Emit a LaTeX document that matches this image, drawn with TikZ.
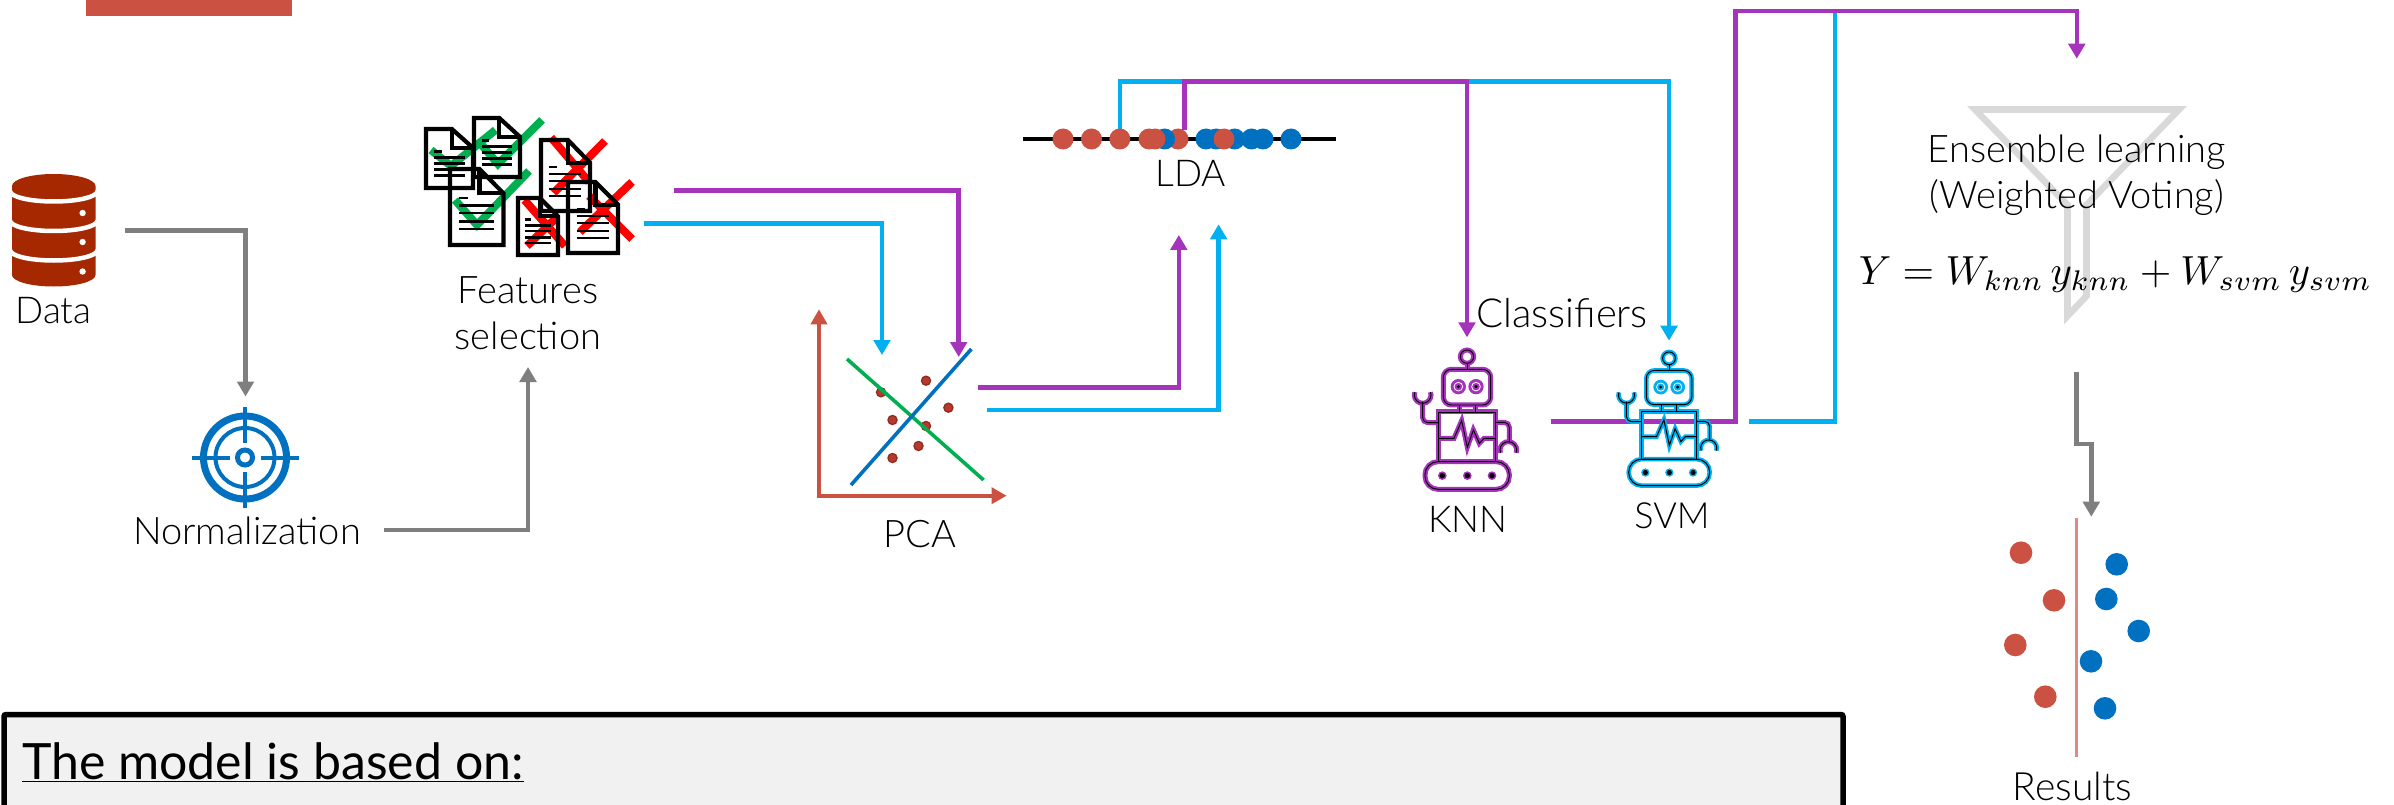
\documentclass[tikz,border=0pt]{standalone}
\usepackage{fontspec}
\setmainfont{Lato Light}
\newfontfamily\regfont{Lato}
\usetikzlibrary{arrows.meta}
\definecolor{conpurple}{HTML}{A633BB}
\definecolor{concyan}{HTML}{00B0F0}
\definecolor{congray}{HTML}{7F7F7F}
\definecolor{brick}{HTML}{CB5242}
\definecolor{dbred}{HTML}{A52800}
\definecolor{azure}{HTML}{0070C0}
\definecolor{leaf}{HTML}{00B050}
\definecolor{ptfill}{HTML}{B5392C}
\definecolor{ptedge}{HTML}{8F2A20}
\definecolor{funnel}{HTML}{D9D9D9}
\definecolor{panel}{HTML}{F1F1F1}
\definecolor{sepline}{HTML}{E08A80}
\tikzset{
  conn/.style={line width=4.5pt,line join=miter,-{Triangle[length=15pt,width=16.5pt]}},
  grayconn/.style={conn,draw=congray},
  purpconn/.style={conn,draw=conpurple},
  cyanconn/.style={conn,draw=concyan},
  lbl/.style={anchor=base,inner sep=0pt,text=black,font=\fontsize{38}{45.5}\selectfont,align=center},
  lblsm/.style={lbl,font=\fontsize{37}{45.5}\selectfont},
  docline/.style={line width=4.2pt,draw=black,line join=miter},
  docrule/.style={line width=2.6pt,draw=black},
  tick/.style={line width=8pt,draw=leaf},
  cross/.style={line width=8pt,draw=red},
}
% document icon: left, top, right, bottom
\newcommand{\docicon}[4]{%
  \pgfmathsetmacro{\dw}{#3-#1}\pgfmathsetmacro{\dh}{#4-#2}%
  \pgfmathsetmacro{\fx}{#3-0.45*\dw}\pgfmathsetmacro{\fy}{#2+0.32*\dh}%
  \draw[docline] (#1,#2) -- (\fx,#2) -- (#3,\fy) -- (#3,#4) -- (#1,#4) -- cycle;
  \draw[docline] (\fx,#2) -- (\fx,\fy) -- (#3,\fy);
  \foreach \f/\e in {.38/.33,.48/.82,.58/.82,.69/.82,.79/.82}{
    \draw[docrule] ({#1+.17*\dw},{#2+\f*\dh}) -- ({#1+\e*\dw},{#2+\f*\dh});
  }%
}
% robot, in units of the zoomed crop
\newcommand{\robotshape}[1]{%
  \draw[#1] (261,290) circle[radius=20];
  \draw[#1] (261,310) -- (261,328);
  \draw[#1,rounded corners=8pt] (190,328) rectangle (332,435);
  \draw[#1] (238,435) -- (238,456) (285,435) -- (285,456);
  \draw[#1] (175,456) rectangle (347,605);
  \draw[#1,line join=miter] (175,535) -- (222,535) -- (245,482) -- (262,562) -- (280,510) -- (298,550) -- (312,535) -- (347,535);
  \draw[#1,rounded corners=5pt] (175,488) -- (128,488) -- (128,425);
  \draw[#1] (128,405) ++(200:25) arc[start angle=200,end angle=-20,radius=25];
  \draw[#1,rounded corners=5pt] (347,487) -- (388,487) -- (388,548);
  \draw[#1] (385,570) ++(160:25) arc[start angle=160,end angle=380,radius=25];
  \draw[#1,rounded corners=13pt] (135,605) rectangle (388,688);
}
\newcommand{\robotface}[1]{%
  \foreach \ex in {235,288}{
    \fill[#1] (\ex,380) circle[radius=23];
    \draw[white,line width=.8pt] (\ex,380) circle[radius=13];
    \fill[black] (\ex,380) circle[radius=5];
  }
  \foreach \wx in {187,262,336}{
    \fill[#1] (\wx,647) circle[radius=13];
    \fill[black] (\wx,647) circle[radius=8];
  }
}
\begin{document}
\begin{tikzpicture}[x=1pt,y=-1pt]
\useasboundingbox (0,0) rectangle (2394,805);
\fill[white] (0,0) rectangle (2394,805);

% connector ends
\coordinate (dataOut) at (125,230.5);
\coordinate (normIn) at (245.5,396.5);
\coordinate (normOut) at (384,530);
\coordinate (featIn) at (528,367);
\coordinate (featOutP) at (674,190.5);
\coordinate (featOutC) at (644,223.5);
\coordinate (pcaInP) at (958.7,357);
\coordinate (pcaInC) at (882,355);
\coordinate (pcaOutP) at (977.5,387.7);
\coordinate (pcaOutC) at (987,410);
\coordinate (ldaInP) at (1178.8,235);
\coordinate (ldaInC) at (1218.6,224.3);
\coordinate (ldaOutP) at (1184.5,130);
\coordinate (ldaOutC) at (1120,130);
\coordinate (ldaBusP) at (1184.5,81.3);
\coordinate (ldaBusC) at (1120,81.3);
\coordinate (knnIn) at (1467,337.3);
\coordinate (svmIn) at (1669,340.7);
\coordinate (knnOut) at (1550.7,421.3);
\coordinate (svmOut) at (1749,421.3);
\coordinate (riseP) at (1735.4,11);
\coordinate (riseC) at (1834.8,11);
\coordinate (ensIn) at (2076.8,58.7);
\coordinate (ensOut) at (2076.3,371.7);
\coordinate (jogA) at (2076.3,444);
\coordinate (jogB) at (2091.3,444);
\coordinate (resIn) at (2091.3,516.7);
\coordinate (axisO) at (819,495.7);
\coordinate (axisY) at (819,309.3);
\coordinate (axisX) at (1006.6,495.7);

% top bar
\fill[brick] (86,-2) rectangle (291.5,15.6);

% database
\fill[dbred] (12,186) -- (12,275) arc[start angle=180,end angle=0,x radius=41.75,y radius=11.5]
   -- (95.5,186) arc[start angle=0,end angle=-180,x radius=41.75,y radius=12] -- cycle;
\foreach \yy in {191,220.5,250}{
  \draw[white,line width=4.5pt] (10,\yy) arc[start angle=180,end angle=0,x radius=43.75,y radius=10.5];
}
\foreach \yy in {213,242,271.5}{ \fill[white] (82.6,\yy) circle[radius=3.2]; }
\node[lblsm] (data) at (53.6,323) {Data};

% normalization target
\draw[draw=azure,line width=7pt] (245,457.5) circle[radius=41.5];
\draw[draw=azure,line width=4pt] (245,457.5) circle[radius=29.5];
\draw[draw=azure,line width=5pt] (245,457.5) circle[radius=7.5];
\draw[draw=azure,line width=4pt] (192,457.5) -- (230,457.5) (261,457.5) -- (299,457.5)
   (245,406.5) -- (245,443) (245,472) -- (245,508);
\node[lbl] (norm) at (247,544) {Normalization};

% features selection icons
\draw[tick] (431,150) -- (451,166) -- (495.5,130);
\draw[tick] (480,143) -- (498,164) -- (542,120);
\draw[tick] (455,200) -- (477,225) -- (529,171);
\draw[cross] (551,137.5) -- (589,182) (605,141) -- (553.5,193);
\draw[cross] (524.5,200) -- (565,246) (556,218) -- (527,246);
\draw[cross] (632,182) -- (580,232) (589,196) -- (632,239);
\docicon{426}{129}{473}{188}
\docicon{474}{118}{520}{177}
\docicon{450}{169}{503.5}{245}
\docicon{541}{140}{590}{211}
\docicon{518}{198}{558}{255}
\docicon{568}{182}{618}{253}
\node[lbl] (feat) at (528,349) {Features\\selection};

% PCA plot
\draw[line width=3.6pt,draw=brick,line join=miter,{Triangle[length=15pt,width=16pt]}-{Triangle[length=15pt,width=16pt]}] (axisY) -- (axisO) -- (axisX);
\foreach \px/\py in {926/380.7,881/392.3,948.4/407.7,892.5/420,926/426,918.5/446,892.5/458}{
  \filldraw[fill=ptfill,draw=ptedge,line width=1.2pt] (\px,\py) circle[radius=4.6];
}
\draw[line width=3.6pt,draw=leaf] (847,359) -- (983.6,480);
\draw[line width=3.6pt,draw=azure] (851,485) -- (971.4,349);
\node[lbl] (pca) at (920,547) {PCA};

% connectors, first part
\draw[grayconn] (dataOut) -| (normIn);
\draw[grayconn] (normOut) -| (featIn);
\draw[cyanconn] (featOutC) -| (pcaInC);
\draw[purpconn] (featOutP) -| (pcaInP);
\draw[purpconn] (pcaOutP) -| (ldaInP);
\draw[cyanconn] (pcaOutC) -| (ldaInC);
\draw[cyanconn] (ldaOutC) -- (ldaBusC) -| (svmIn);
\draw[purpconn] (ldaOutP) -- (ldaBusP) -| (knnIn);

% LDA axis
\draw[line width=3.5pt,draw=black] (1023,139) -- (1335.7,139);
\foreach \dx in {1178,1063,1091.5,1119.8}{ \fill[brick] (\dx,139) circle[radius=10.5]; }
\foreach \dx in {1164.6,1206,1216,1234.6,1251.5,1263,1291}{ \fill[azure] (\dx,139) circle[radius=10.5]; }
\foreach \dx in {1149,1155,1224}{ \fill[brick] (\dx,139) circle[radius=10.5]; }
\node[lblsm] (lda) at (1190.6,186.5) {LDA};

% classifier connectors
\draw[draw=concyan,line width=4.5pt,line join=miter] (svmOut) -| (riseC) -- (ensIn |- riseC);
\draw[purpconn] (knnOut) -| (riseP) -| (ensIn);

% robots
\begin{scope}[shift={(1380,260)},scale=.3333]
  \robotshape{conpurple,line width=5pt}
  \robotshape{black,line width=.9pt}
  \robotface{conpurple}
\end{scope}
\begin{scope}[shift={(1585.5,265.5)},scale=.32]
  \robotshape{concyan,line width=4.6pt}
  \robotshape{black,line width=1pt}
  \robotface{concyan}
\end{scope}
\node[lbl,font=\fontsize{40}{44.5}\selectfont] (clf) at (1562,327) {Classifiers};
\node[lblsm] (knn) at (1467.7,532) {KNN};
\node[lbl,font=\fontsize{36}{44.5}\selectfont] (svm) at (1672,528) {SVM};

% funnel
\draw[draw=funnel,line width=6.6pt,line join=miter] (1975,109.5) -- (2179,109.5) -- (2086.5,205) -- (2086.5,296) -- (2067.5,316) -- (2067.5,205) -- cycle;
\node[lbl] (ens) at (2076.8,208.5) {Ensemble learning\\(Weighted Voting)};
\node[anchor=base,inner sep=0pt,scale=4.06,text=black] (eq) at (2115.5,284) {$Y=W_{knn}\,y_{knn}+W_{svm}\,y_{svm}$};

% results
\draw[grayconn] (ensOut) -- (jogA) -- (jogB) -- (resIn);
\draw[draw=sepline,line width=2.5pt] (2076.7,518.3) -- (2076.7,757.3);
\foreach \dx/\dy in {2021/552.7,2054/600.3,2015.3/645,2045.3/696.7}{ \fill[brick] (\dx,\dy) circle[radius=11.3]; }
\foreach \dx/\dy in {2116.7/564.3,2106.3/599,2138.7/631,2091/661.3,2105/708.3}{ \fill[azure] (\dx,\dy) circle[radius=11.3]; }
\node[lbl,font=\fontsize{39}{44.5}\selectfont] (res) at (2072.3,800) {Results};

% panel
\draw[fill=panel,draw=black,line width=5.5pt,rounded corners=2pt] (4,714.5) rectangle (1843,830);
\node[anchor=base west,inner sep=0pt,text=black,font=\regfont\fontsize{50}{50}\selectfont] (title) at (22,779) {The model is based on:};
\draw[line width=1.5pt,draw=black] ([yshift=-2.5pt]title.base west) -- ([yshift=-2.5pt]title.base east);
\end{tikzpicture}
\end{document}
